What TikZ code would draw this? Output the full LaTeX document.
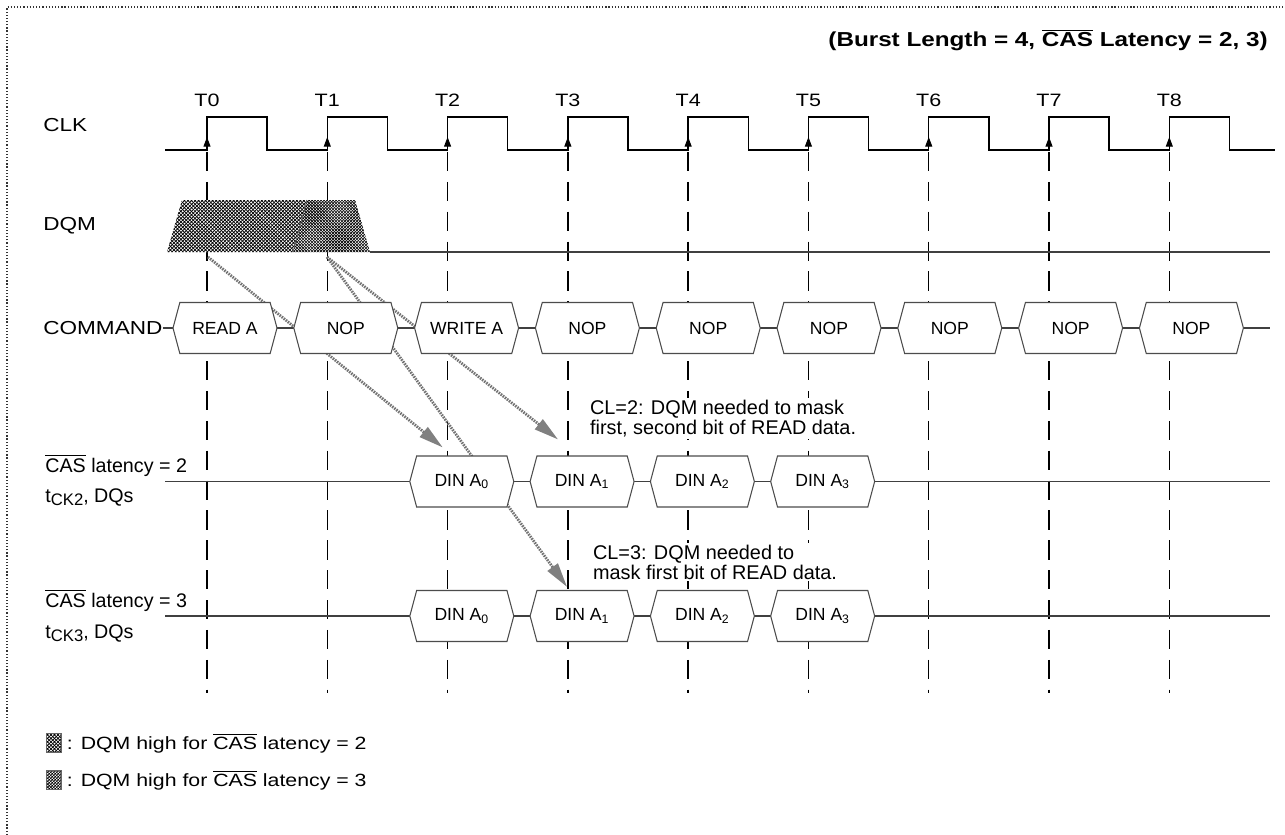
\documentclass[tikz,border=0pt]{standalone}
\usepackage{fontspec}
\setmainfont{Liberation Sans}
\newfontfamily\widefont[FakeStretch=1.2]{Liberation Sans}
\usetikzlibrary{arrows.meta,shapes.symbols,patterns,positioning,backgrounds}

\newcommand{\casbar}{\ensuremath{\overline{\mbox{CAS}}}}

% fill patterns for the DQM high regions
\pgfdeclarepatternformonly{dqmtwo}{\pgfpoint{-0.5pt}{-0.5pt}}{\pgfpoint{2.5pt}{2.5pt}}{\pgfpoint{2pt}{2pt}}{%
  \pgfsetlinewidth{0.4pt}%
  \pgfpathmoveto{\pgfpointorigin}\pgfpathlineto{\pgfpoint{2pt}{2pt}}%
  \pgfpathmoveto{\pgfpoint{0pt}{2pt}}\pgfpathlineto{\pgfpoint{2pt}{0pt}}%
  \pgfusepath{stroke}}
\pgfdeclarepatternformonly{dqmthree}{\pgfpoint{-0.5pt}{-0.5pt}}{\pgfpoint{2.2pt}{2.2pt}}{\pgfpoint{1.7pt}{1.7pt}}{%
  \pgfsetlinewidth{0.35pt}%
  \pgfpathmoveto{\pgfpointorigin}\pgfpathlineto{\pgfpoint{1.7pt}{1.7pt}}%
  \pgfpathmoveto{\pgfpoint{0pt}{1.7pt}}\pgfpathlineto{\pgfpoint{1.7pt}{0pt}}%
  \pgfusepath{stroke}}

\begin{document}
\begin{tikzpicture}[x=0.02cm, y=-0.02cm,
    busline/.style={draw=black!75, line width=0.6pt},
    clkline/.style={draw=black, line width=0.8pt},
    gridline/.style={draw=black, line width=0.8pt, dash pattern=on 11pt off 6pt},
    edgetip/.style={line width=0.5pt, -{Triangle[length=5.5pt,width=4pt]}},
    cmdbox/.style={shape=signal, signal to=west and east, signal pointer angle=150,
      draw=black!70, fill=white, line width=0.6pt, inner sep=0pt,
      minimum width=2.08cm, minimum height=1.02cm, font=\fontsize{10}{12}\selectfont},
    lbl/.style={anchor=west, inner sep=0pt, font=\widefont\fontsize{10.7}{12}\selectfont},
    tlbl/.style={inner sep=0pt, font=\widefont\fontsize{10.2}{12}\selectfont},
    caslbl/.style={anchor=base west, inner sep=0pt, font=\fontsize{11.2}{13}\selectfont},
    note/.style={anchor=north west, align=left, fill=white, inner sep=1pt,
      font=\fontsize{11.3}{10.3}\selectfont},
    dqmarrow/.style={draw=black!55, line width=1.6pt, dash pattern=on 0.9pt off 0.6pt,
      -{Triangle[length=14pt,width=7pt,color=black!50]}},
    keybox/.style={draw=black!60, line width=0.4pt, minimum width=0.3cm,
      minimum height=0.38cm, inner sep=0pt},
    keytext/.style={inner sep=0pt, font=\widefont\fontsize{10.1}{12}\selectfont}]
  \useasboundingbox (0,0) rectangle (1285,835);
  \draw[black!80, line width=0.7pt, dash pattern=on 0.7pt off 1.1pt] (7,835) -- (7,7) -- (1285,7);

  \node[anchor=east, inner sep=0pt, font=\widefont\bfseries\fontsize{11.5}{13}\selectfont] (title)
    at (1268,40) {(Burst Length = 4, \casbar{} Latency = 2, 3)};

  % clock
  \draw[clkline] (165,150) \foreach \i in {0,...,8} {
      -- ({207+120.29*\i},150) -- ({207+120.29*\i},117)
      -- ({267.15+120.29*\i},117) -- ({267.15+120.29*\i},150)} -- (1275,150);
  \foreach \i [evaluate=\i as \tx using 207+120.29*\i] in {0,...,8} {
    \node[tlbl] (t\i) at (\tx,100) {T\i};
    \draw[edgetip] (\tx,151) -- (\tx,137);
  }

  % signal names
  \node[lbl] (clk) at (43,125) {CLK};
  \node[lbl] (dqm) at (43,226) {DQM};
  \node[lbl] (command) at (43,328) {COMMAND};
  \node[caslbl] (cas2) at (45,472) {\casbar{} latency = 2};
  \node[caslbl] (tck2) at (45,502) {t\raisebox{-0.35ex}{\fontsize{9.5}{9.5}\selectfont CK2}, DQs};
  \node[caslbl] (cas3) at (45,607) {\casbar{} latency = 3};
  \node[caslbl] (tck3) at (45,638) {t\raisebox{-0.35ex}{\fontsize{9.5}{9.5}\selectfont CK3}, DQs};

  % DQM high
  \fill[white] (167,252) -- (182,200) -- (355,200) -- (370,252) -- cycle;
  \fill[pattern=dqmtwo] (167,252) -- (182,200) -- (307,200) -- (293,252) -- cycle;
  \fill[pattern=dqmthree] (293,252) -- (307,200) -- (355,200) -- (370,252) -- cycle;
  \draw[black!60, line width=0.4pt] (307,200) -- (293,252);
  \coordinate (dqm0) at (208,257);
  \coordinate (dqm1) at (327,257);

  % commands and data
  \foreach \cmd [count=\i from 0] in {READ A,NOP,WRITE A,NOP,NOP,NOP,NOP,NOP,NOP}
    \node[cmdbox] (cmd\i) at ({225+120.8*\i},328) {\cmd};
  \foreach \i [evaluate=\i as \dx using 461.8+120.29*\i] in {0,...,3} {
    \node[cmdbox] (dina\i) at (\dx,481.5) {DIN A\textsubscript{\i}};
    \node[cmdbox] (dinb\i) at (\dx,616) {DIN A\textsubscript{\i}};
  }

  \node[note] (cl2note) at (588,398) {CL=2: DQM needed to mask\\first, second bit of READ data.};
  \node[note] (cl3note) at (591,543) {CL=3: DQM needed to\\mask first bit of READ data.};

  % key
  \node[keybox, pattern=dqmtwo] (key2) at (53.5,743) {};
  \node[keytext, right=3pt of key2] (key2text) {: DQM high for \casbar{} latency = 2};
  \node[keybox, pattern=dqmthree] (key3) at (53.5,780) {};
  \node[keytext, right=3pt of key3] (key3text) {: DQM high for \casbar{} latency = 3};

  \begin{scope}[on background layer]
    \foreach \i in {0,...,8}
      \draw[gridline] ({207+120.29*\i},152) -- ({207+120.29*\i},693);
    \draw[busline] (370,252) -- (1270,252);
    \draw[busline] (command.east) -- (1270,328);
    \draw[busline] (165,481.5) -- (1270,481.5);
    \draw[busline] (165,616) -- (1270,616);
    \draw[dqmarrow] (dqm0) -- ([shift={(-19,-8)}]dina0.north);
    \draw[dqmarrow] (dqm1) -- ([shift={(-24,-16)}]dina1.north);
    \draw[dqmarrow] (dqm1) -- ([shift={(-15,-3)}]dinb1.north);
  \end{scope}
\end{tikzpicture}
\end{document}
